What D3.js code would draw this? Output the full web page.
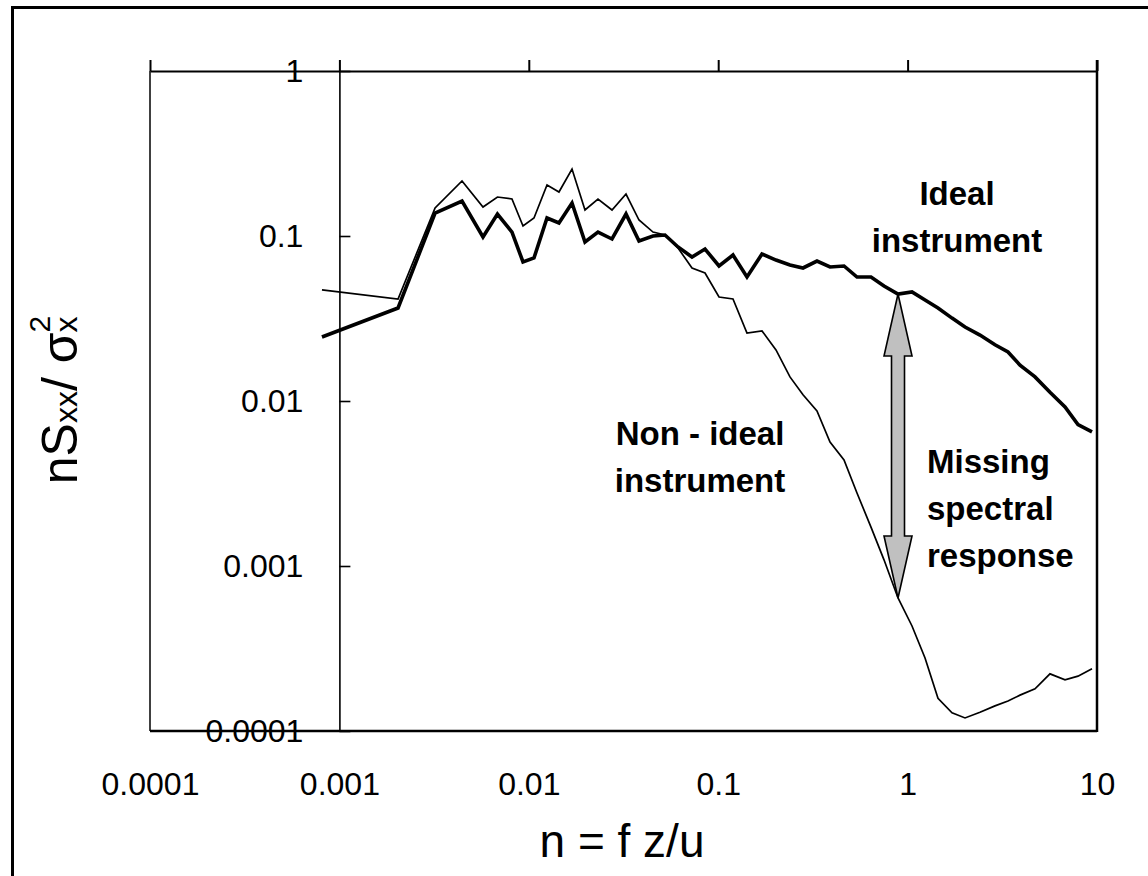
<html>
<head>
	<title>Spectral response</title>
	<style>
		body { margin: 0; background: #fff; }
		text { font-family: "Liberation Sans", Arial, sans-serif; }
	</style>
</head>
<body>
	<script src="https://cdnjs.cloudflare.com/ajax/libs/d3/7.8.5/d3.min.js"></script>
	<script type="text/javascript">
		// normalised frequency n = f z/u
		var freq = [0.000809, 0.00204, 0.0032, 0.00444, 0.00573, 0.00683, 0.00815, 0.00932, 0.01065, 0.01248,
			0.01443, 0.01691, 0.0198, 0.02319, 0.0275, 0.0326, 0.03818, 0.04527, 0.05237, 0.06135,
			0.07273, 0.08519, 0.101, 0.1197, 0.1419, 0.1703, 0.2019, 0.2393, 0.2804, 0.3323,
			0.3894, 0.4616, 0.5405, 0.6408, 0.7506, 0.8899, 1.055, 1.236, 1.447, 1.716,
			2.01, 2.411, 2.893, 3.389, 3.922, 4.707, 5.646, 6.779, 7.937, 9.41];
		// nSxx / sigma^2, ideal instrument (thick line)
		var ideal = [0.02443, 0.03662, 0.1378, 0.163, 0.0986, 0.1359, 0.1057, 0.0696, 0.0736, 0.1285,
			0.1199, 0.1585, 0.092, 0.1057, 0.0959, 0.1359, 0.0933, 0.1, 0.1014, 0.0858,
			0.0746, 0.0834, 0.0658, 0.0767, 0.0564, 0.0778, 0.0715, 0.0667, 0.064, 0.0705,
			0.0649, 0.0658, 0.0564, 0.0564, 0.0498, 0.0445, 0.0458, 0.0409, 0.0366, 0.0318,
			0.0281, 0.0251, 0.0219, 0.0198, 0.0165, 0.014, 0.0113, 0.0092, 0.0072, 0.0065];
		// non-ideal instrument (thin line)
		var nonIdeal = [0.0471, 0.0415, 0.1478, 0.2154, 0.1499, 0.1723, 0.1676, 0.115, 0.1285, 0.2037,
			0.1848, 0.2547, 0.1438, 0.1676, 0.1438, 0.1797, 0.125, 0.1057, 0.1014, 0.0846,
			0.064, 0.0597, 0.0427, 0.0415, 0.0258, 0.0266, 0.0204, 0.014, 0.0109, 0.0087,
			0.00564, 0.00439, 0.00277, 0.00172, 0.00109, 0.00064, 0.000433, 0.000277, 0.000158, 0.000129,
			0.00012, 0.00013, 0.000142, 0.000152, 0.000165, 0.00018, 0.000222, 0.000204, 0.000215, 0.000238];
		var xTicks = [0.0001, 0.001, 0.01, 0.1, 1, 10];
		var xTickLabels = ["0.0001", "0.001", "0.01", "0.1", "1", "10"];
		var yTicks = [0.0001, 0.001, 0.01, 0.1, 1];
		var yTickLabels = ["0.0001", "0.001", "0.01", "0.1", "1"];
		// arrow between the two curves at n ~ 0.89
		var arrowX = 0.8899, arrowTop = 0.0445, arrowBottom = 0.00064;

		function drawChart(){
			var W = 1148, H = 876;
			var pl = 150, pr = 1097, pt = 71, pb = 731;
			var svg = d3.select("body").append("svg")
						.attr("width", W)
						.attr("height", H);

			// outer frame
			svg.append("rect")
				.attr("x", 12.5).attr("y", 7.5)
				.attr("width", 1300).attr("height", 1000)
				.style("fill", "none")
				.style("stroke", "black")
				.style("stroke-width", "3px");

			var x = d3.scaleLog().domain([0.0001, 10]).range([pl, pr]);
			var y = d3.scaleLog().domain([0.0001, 1]).range([pb, pt]);

			// box
			svg.append("line").attr("x1", pl).attr("x2", pl).attr("y1", pt).attr("y2", pb)
				.style("stroke", "black").style("stroke-width", "1.5px");
			svg.append("line").attr("x1", pl).attr("x2", pr).attr("y1", pb).attr("y2", pb)
				.style("stroke", "black").style("stroke-width", "2.5px");
			svg.append("line").attr("x1", pr).attr("x2", pr).attr("y1", pt - 11).attr("y2", pb + 1)
				.style("stroke", "black").style("stroke-width", "2.5px");

			// top axis line with outward ticks
			var topAxis = svg.append("g")
				.attr("transform", "translate(0," + pt + ")")
				.call(d3.axisTop(x).tickValues(xTicks).tickSizeInner(11).tickSizeOuter(0).tickFormat(""));
			topAxis.selectAll("path, line").style("stroke", "black").style("stroke-width", "2px");

			// labels of x along the bottom
			var botAxis = svg.append("g")
				.attr("transform", "translate(0," + pb + ")")
				.call(d3.axisBottom(x).tickValues(xTicks).tickSize(0).tickPadding(41)
					.tickFormat(function(d, i){ return xTickLabels[i]; }));
			botAxis.select(".domain").remove();
			botAxis.selectAll("text").style("font-size", "32px").style("fill", "black")
				.style("font-family", "'Liberation Sans', Arial, sans-serif");

			// y axis crosses at n = 0.001
			var yAxis = svg.append("g")
				.attr("transform", "translate(" + x(0.001) + ",0)")
				.call(d3.axisLeft(y).tickValues(yTicks).tickSizeInner(-11).tickSizeOuter(0).tickPadding(36)
					.tickFormat(function(d, i){ return yTickLabels[i]; }));
			yAxis.selectAll("path, line").style("stroke", "black").style("stroke-width", "1.6px");
			yAxis.selectAll("text").style("font-size", "32px").style("fill", "black")
				.style("font-family", "'Liberation Sans', Arial, sans-serif");

			var line = d3.line()
				.x(function(d){ return x(d[0]); })
				.y(function(d){ return y(d[1]); });

			svg.append("path")
				.datum(d3.zip(freq, nonIdeal))
				.attr("d", line)
				.style("fill", "none")
				.style("stroke", "black")
				.style("stroke-width", "1.7px");
			svg.append("path")
				.datum(d3.zip(freq, ideal))
				.attr("d", line)
				.style("fill", "none")
				.style("stroke", "black")
				.style("stroke-width", "3.6px");

			// double headed arrow
			var ax = x(arrowX), at = y(arrowTop), ab = y(arrowBottom);
			var hw = 14, hl = 62, sw = 6.5;
			svg.append("path")
				.attr("d", "M" + [ax, at] + " L" + [ax + hw, at + hl] + " L" + [ax + sw, at + hl] +
					" L" + [ax + sw, ab - hl] + " L" + [ax + hw, ab - hl] + " L" + [ax, ab] +
					" L" + [ax - hw, ab - hl] + " L" + [ax - sw, ab - hl] + " L" + [ax - sw, at + hl] +
					" L" + [ax - hw, at + hl] + " Z")
				.style("fill", "#c0c0c0")
				.style("stroke", "black")
				.style("stroke-width", "1.6px");

			// annotations
			function label(lines, lx, ly, anchor){
				var t = svg.append("text")
					.attr("x", lx).attr("y", ly)
					.attr("text-anchor", anchor)
					.style("font-size", "33px")
					.style("font-weight", "bold");
				lines.forEach(function(s, i){
					t.append("tspan").attr("x", lx).attr("dy", i ? 47 : 0).text(s);
				});
			}
			label(["Ideal", "instrument"], 957, 205, "middle");
			label(["Non - ideal", "instrument"], 700, 445, "middle");
			label(["Missing", "spectral", "response"], 927, 473, "start");

			// axis titles
			svg.append("text")
				.attr("x", 622).attr("y", 857)
				.attr("text-anchor", "middle")
				.style("font-size", "46px")
				.text("n = f z/u");

			var yt = svg.append("text")
				.attr("transform", "translate(77,400) rotate(-90)")
				.attr("text-anchor", "middle")
				.style("font-size", "50px");
			yt.append("tspan").text("nS");
			yt.append("tspan").style("font-size", "32px").text("xx");
			yt.append("tspan").text("/ σ");
			yt.append("tspan").style("font-size", "32px").text("x");
			yt.append("tspan").style("font-size", "30px").attr("dx", -16).attr("dy", -27).text("2");
		}
		drawChart();
	</script>
</body>
</html>
